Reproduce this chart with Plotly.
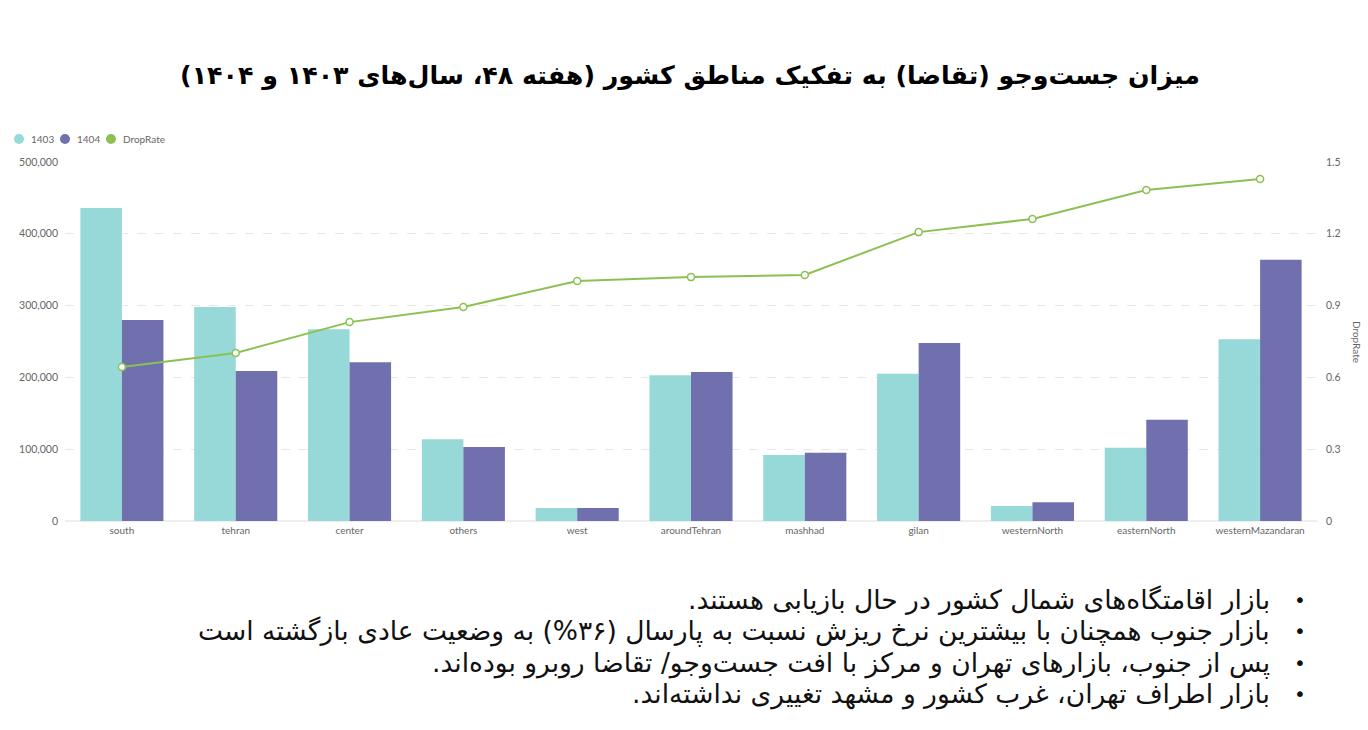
import plotly.graph_objects as go

categories = ["south", "tehran", "center", "others", "west", "aroundTehran",
              "mashhad", "gilan", "westernNorth", "easternNorth", "westernMazandaran"]
values_1403 = [436000, 298000, 267000, 114000, 18000, 203000, 92000, 205000, 21000, 102000, 253000]
values_1404 = [280000, 209000, 221000, 103000, 18000, 207500, 95000, 248000, 26000, 141000, 364000]
drop_rate = [0.643, 0.702, 0.831, 0.894, 1.003, 1.019, 1.028, 1.207, 1.262, 1.383, 1.429]

left_ticks = [0, 100000, 200000, 300000, 400000, 500000]
right_ticks = [0, 0.3, 0.6, 0.9, 1.2, 1.5]
right_tick_text = ["0", "0.3", "0.6", "0.9", "1.2", "1.5"]
series_names = ["1403", "1404", "DropRate"]

title_text = "میزان جست\u200cوجو (تقاضا) به تفکیک مناطق کشور (هفته ۴۸، سال\u200cهای ۱۴۰۳ و ۱۴۰۴)"
bullets = [
    "بازار اقامتگاه\u200cهای شمال کشور در حال بازیابی هستند.",
    "بازار جنوب همچنان با بیشترین نرخ ریزش نسبت به پارسال (۳۶%) به وضعیت عادی بازگشته است",
    "پس از جنوب، بازارهای تهران و مرکز با افت جست\u200cوجو/ تقاضا روبرو بوده\u200cاند.",
    "بازار اطراف تهران، غرب کشور و مشهد تغییری نداشته\u200cاند.",
]

C1403 = "#97D8D8"
C1404 = "#7170AE"
CDROP = "#8CC152"
COLORS = [C1403, C1404, CDROP]
TICK = dict(family="Lato, 'Open Sans', sans-serif", size=10, color="#666666")
YTICK = dict(family="Lato, 'Open Sans', sans-serif", size=10.5, color="#666666")
FA = "DejaVu Sans, 'Noto Sans', sans-serif"

W, H = 1368, 730
L, R, T, B = 65, 1317, 162, 521

def px(x):
    return (x - L) / (R - L)

def py(y):
    return (B - y) / (B - T)

fig = go.Figure()
fig.add_trace(go.Bar(x=categories, y=values_1403, name=series_names[0],
                     marker=dict(color=C1403, line=dict(width=0)), showlegend=False))
fig.add_trace(go.Bar(x=categories, y=values_1404, name=series_names[1],
                     marker=dict(color=C1404, line=dict(width=0)), showlegend=False))
fig.add_trace(go.Scatter(x=categories, y=drop_rate, name=series_names[2], yaxis="y2", mode="lines+markers",
                         line=dict(color=CDROP, width=2),
                         marker=dict(symbol="circle", size=7, color="white", line=dict(color=CDROP, width=1.5)),
                         showlegend=False))

shapes = []
annotations = []
# compact legend (circle swatches + labels)
for cx, tx, nm, col in zip([19, 65, 111], [29, 75, 121], series_names, COLORS):
    shapes.append(dict(type="circle", xref="paper", yref="paper", xsizemode="pixel", ysizemode="pixel",
                       xanchor=px(cx), yanchor=py(139), x0=-5, x1=5, y0=-5, y1=5,
                       fillcolor=col, line=dict(width=0)))
    annotations.append(dict(text=nm, xref="paper", yref="paper", x=px(tx), y=py(139),
                            xanchor="left", yanchor="middle", showarrow=False, font=TICK))

for i, line in enumerate(bullets):
    yy = [600, 631, 663, 694][i]
    annotations.append(dict(text="\u200f" + line + "\u200f", xref="paper", yref="paper",
                            x=px(1272), y=py(yy), xanchor="right", yanchor="middle", showarrow=False,
                            font=dict(family=FA, size=26.5, color="#111111")))
    annotations.append(dict(text="•", xref="paper", yref="paper", x=px(1300), y=py(yy),
                            xanchor="center", yanchor="middle", showarrow=False,
                            font=dict(family=FA, size=20, color="#111111")))
annotations.append(dict(text="DropRate", xref="paper", yref="paper", x=px(1357), y=py(342),
                        textangle=90, showarrow=False, xanchor="center", yanchor="middle",
                        font=TICK))

fig.update_layout(
    width=W, height=H,
    margin=dict(l=L, r=W - R, t=T, b=H - B),
    paper_bgcolor="white", plot_bgcolor="white",
    showlegend=False,
    title=dict(text="\u200f" + title_text + "\u200f", x=690 / W, xref="container", xanchor="center",
               y=1 - 75 / H, yref="container", yanchor="middle",
               font=dict(family=FA, size=25.3, color="#000000", weight="bold")),
    barmode="group", bargap=0.27, bargroupgap=0,
    xaxis=dict(range=[-0.5, len(categories) - 0.5], showgrid=False, showline=True, linecolor="#EEEEEE",
               linewidth=1, ticks="", tickfont=TICK, fixedrange=True),
    yaxis=dict(range=[0, 500000], tickvals=left_ticks, tickformat=",", tickfont=YTICK,
               showgrid=True, gridcolor="#E8E8E8", griddash="dash", gridwidth=1,
               zeroline=True, zerolinecolor="#EEEEEE", showline=False, ticks="", ticklabelstandoff=6),
    yaxis2=dict(range=[0, 1.5], tickvals=right_ticks, ticktext=right_tick_text, overlaying="y", side="right",
                tickfont=YTICK, showgrid=False, zeroline=False, showline=False, ticks="", ticklabelstandoff=8),
    shapes=shapes,
    annotations=annotations,
)

fig.write_html("out.html", config={"displayModeBar": False},
               post_script="document.body.style.margin='0px';")
